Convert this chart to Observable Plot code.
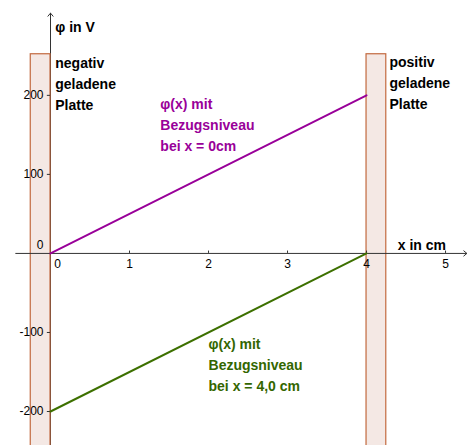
<!DOCTYPE html>
<html><head><meta charset="utf-8">
<script src="https://cdn.jsdelivr.net/npm/d3@7"></script>
<script src="https://cdn.jsdelivr.net/npm/@observablehq/plot@0.6"></script>
<style>body{margin:0;background:#fff} svg{display:block}</style>
</head><body><div id="chart"></div>
<script>
const xTicks = [1, 2, 3, 4, 5];
const xZeroLabel = [0];
const yTicks = [-200, -100, 100, 200];
const yZeroLabel = [0];
const purpleLine = [{x: 0, y: 0}, {x: 4, y: 200}];
const greenLine = [{x: 0, y: -200}, {x: 4, y: 0}];
const plates = [{x1: -0.25, x2: 0, top: 252}, {x1: 4, x2: 4.25, top: 252}];
const xAxisLine = [{x1: -0.44, y1: 0, x2: 5.27, y2: 0}];
const yAxisLine = [{x1: 0, y1: -260, x2: 0, y2: 304}];
const notes = [
  {x: 0.06, y: 289, text: "φ in V", color: "#000", anchor: "start"},
  {x: 4.70, y: 12.7, text: "x in cm", color: "#000", anchor: "middle"},
  {x: 0.06, y: 216.5, text: "negativ\ngeladene\nPlatte", color: "#000", anchor: "start"},
  {x: 4.29, y: 217.7, text: "positiv\ngeladene\nPlatte", color: "#000", anchor: "start"},
  {x: 1.39, y: 164.6, text: "φ(x) mit\nBezugsniveau\nbei x = 0cm", color: "#990099", anchor: "start"},
  {x: 2.0, y: -139, text: "φ(x) mit\nBezugsniveau\nbei x = 4,0 cm", color: "#336600", anchor: "start"}
];

const axisColor = "#333";
const chart = Plot.plot({
  width: 467, height: 445,
  marginTop: 0, marginBottom: 0, marginLeft: 0, marginRight: 0,
  x: {domain: [-0.633, 5.278], axis: null},
  y: {domain: [-243, 320], axis: null},
  style: {fontFamily: "'Liberation Sans', Arial, sans-serif", background: "#fff"},
  marks: [
    Plot.arrow(yAxisLine, {x1: "x1", y1: "y1", x2: "x2", y2: "y2", stroke: axisColor, strokeWidth: 1, headLength: 6, headAngle: 80, clip: true}),
    Plot.rect(plates, {x1: "x1", x2: "x2", y1: -260, y2: "top", fill: "#f4e8e4", stroke: "#c2693f", strokeWidth: 1.2, clip: true}),
    Plot.arrow(xAxisLine, {x1: "x1", y1: "y1", x2: "x2", y2: "y2", stroke: axisColor, strokeWidth: 1, headLength: 6, headAngle: 80}),
    Plot.ruleX(xTicks, {x: d => d, y1: 0, y2: 3, stroke: axisColor}),
    Plot.ruleY(yTicks, {y: d => d, x1: -0.04, x2: 0, stroke: axisColor}),
    Plot.text(xTicks, {x: d => d, y: 0, text: d => String(d), dy: 11, fontSize: 12, fill: "#000"}),
    Plot.text(xZeroLabel, {x: d => d, y: 0, text: d => String(d), dy: 11, dx: 7, fontSize: 12, fill: "#000"}),
    Plot.text(yTicks, {x: 0, y: d => d, text: d => String(d), dx: -7, textAnchor: "end", fontSize: 12, fill: "#000"}),
    Plot.text(yZeroLabel, {x: 0, y: d => d, text: d => String(d), dx: -7, dy: -8, textAnchor: "end", fontSize: 12, fill: "#000"}),
    Plot.line(purpleLine, {x: "x", y: "y", stroke: "#990099", strokeWidth: 2}),
    Plot.line(greenLine, {x: "x", y: "y", stroke: "#3d7000", strokeWidth: 2}),
    ...notes.map(n => Plot.text([n], {x: "x", y: "y", text: "text", fill: "color", textAnchor: n.anchor, lineAnchor: "middle", lineHeight: 1.5, fontSize: 14, fontWeight: "bold"}))
  ]
});
document.getElementById("chart").append(chart);
</script>
</body></html>
